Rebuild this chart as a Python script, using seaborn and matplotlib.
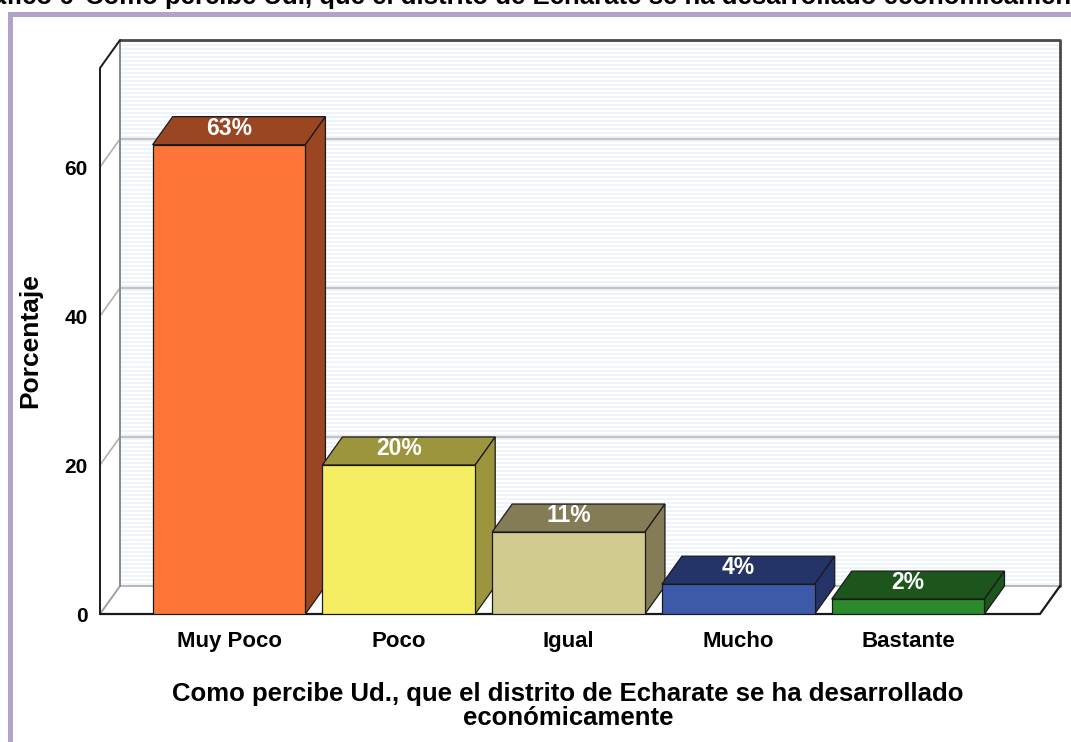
import matplotlib
matplotlib.use("Agg")
import matplotlib.pyplot as plt
from matplotlib.patches import Polygon, Rectangle
import pandas as pd
import seaborn as sns

categories = ["Muy Poco", "Poco", "Igual", "Mucho", "Bastante"]
percentages = [63, 20, 11, 4, 2]
front_colors = ["#fd7538", "#f6ee62", "#d1cb90", "#3d5aa8", "#2b8a2b"]
shade_colors = ["#9b4622", "#9c953d", "#837c56", "#243468", "#1d561c"]
y_ticks = [0, 20, 40, 60]

title_start = "Gráfico 6"
title_rest = "Como percibe Ud., que el distrito de Echarate se ha desarrollado económicamente"
x_title = "Como percibe Ud., que el distrito de Echarate se ha desarrollado\neconómicamente"

sns.set_theme(style="white")
plt.rcParams["font.family"] = ["Liberation Sans", "DejaVu Sans"]
plt.rcParams["text.color"] = "black"
plt.rcParams["xtick.color"] = "black"
plt.rcParams["ytick.color"] = "black"

fig = plt.figure(figsize=(10.71, 7.42), dpi=100)
ax = fig.add_axes([100 / 1071, 1 - 614 / 742, 960 / 1071, 574 / 742])

# 3d depth offset in data units
dx, dy = 0.118, 3.76
x_left, x_right = -0.76, 4.895
y_top = 77.05
front_right = x_right - dx

df = pd.DataFrame({"categoria": categories, "porcentaje": percentages})
sns.barplot(data=df, x="categoria", y="porcentaje", hue="categoria",
            palette=front_colors, saturation=1, legend=False, width=0.9, ax=ax,
            edgecolor="#1a1a1a", linewidth=0.9)

ax.set_xlim(x_left, x_right)
ax.set_ylim(0, y_top)
for s in ax.spines.values():
    s.set_visible(False)
ax.set_facecolor("none")

# back wall with light stripes
bx0 = x_left + dx
ax.add_patch(Rectangle((bx0, dy), x_right - bx0, y_top - dy, facecolor="white",
                       edgecolor="none", zorder=0.4))
yy = dy + 0.3
while yy < y_top:
    ax.plot([bx0, x_right], [yy, yy], color="#eef4fc", lw=1.4, zorder=0.5,
            solid_capstyle="butt")
    yy += 0.54
for v in y_ticks[1:]:
    ax.plot([bx0, x_right], [v + dy, v + dy], color="#c4c4c4", lw=1.6, zorder=0.7)
    ax.plot([x_left, bx0], [v, v + dy], color="#b0b0b0", lw=1.2, zorder=0.7)
ax.plot([bx0, x_right], [dy, dy], color="#b8b8b8", lw=1.4, zorder=0.7)
ax.plot([x_left, bx0], [0, dy], color="#a0a0a0", lw=1.4, zorder=0.7)
ax.plot([bx0, bx0], [dy, y_top], color="#8a8a8a", lw=1.4, zorder=0.8)
ax.plot([bx0, x_right, x_right], [y_top, y_top, dy], color="#4a4a4a", lw=2.0,
        zorder=0.8, clip_on=False)

# floor and left axis
ax.plot([x_left, front_right, x_right], [0, 0, dy], color="#1a1a1a", lw=1.6,
        zorder=1, clip_on=False)
ax.plot([x_left, x_left, bx0], [0, y_top - dy, y_top], color="#1a1a1a", lw=1.4,
        zorder=1, clip_on=False)

# 3d faces for each bar
for i, (bar, shade) in enumerate(zip(ax.patches[:len(categories)], shade_colors)):
    x0 = bar.get_x()
    w = bar.get_width()
    h = bar.get_height()
    bar.set_zorder(4 + 2 * i)
    top = Polygon([(x0, h), (x0 + dx, h + dy), (x0 + w + dx, h + dy), (x0 + w, h)],
                  closed=True, facecolor=shade, edgecolor="#1a1a1a", lw=0.9,
                  zorder=3 + 2 * i)
    side = Polygon([(x0 + w, 0), (x0 + w, h), (x0 + w + dx, h + dy), (x0 + w + dx, dy)],
                   closed=True, facecolor=shade, edgecolor="#1a1a1a", lw=0.9,
                   zorder=3 + 2 * i)
    ax.add_patch(top)
    ax.add_patch(side)
    ax.text(x0 + w / 2, h + dy / 2 + 0.3, f"{percentages[i]}%", color="white",
            fontsize=16.5, fontweight="bold", ha="center", va="center",
            zorder=5 + 2 * i)

ax.set_yticks(y_ticks)
ax.set_yticklabels([str(v) for v in y_ticks], fontsize=15, fontweight="bold")
ax.tick_params(axis="y", length=0, pad=9)
ax.tick_params(axis="x", length=0, pad=12)
for lbl in ax.get_xticklabels():
    lbl.set_fontsize(16)
    lbl.set_fontweight("bold")
ax.set_xlabel("")
ax.set_ylabel("")

fig.text(30 / 1071, 1 - 341 / 742, "Porcentaje", rotation=90, fontsize=19,
         fontweight="bold", ha="center", va="center")
fig.text(568 / 1071, 1 - 706 / 742, x_title, fontsize=18.5, fontweight="bold",
         ha="center", va="center", linespacing=1.02)

# cropped title at top (cut off in the original figure too)
fig.text(73 / 1071, 1 - 4 / 742, title_start, fontsize=18.5, fontweight="bold",
         ha="right", va="baseline")
fig.text(85 / 1071, 1 - 4 / 742, title_rest, fontsize=18.5, fontweight="bold",
         ha="left", va="baseline")

# purple frame
fig.add_artist(plt.Line2D([9.5 / 1071, 9.5 / 1071, 1.0], [0, 1 - 14 / 742, 1 - 14 / 742],
                          transform=fig.transFigure, color="#b3a2c8", lw=3.6,
                          solid_joinstyle="miter"))

fig.savefig("out.png", dpi=100)
